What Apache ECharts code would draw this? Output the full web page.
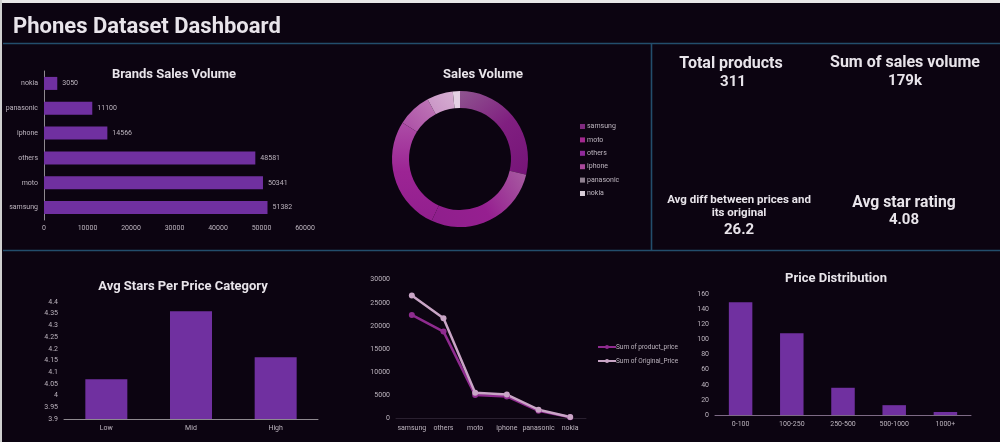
<!DOCTYPE html>
<html><head><meta charset="utf-8">
<style>html,body{margin:0;padding:0;background:#0c0411}#c{width:1000px;height:442px}</style>
<script src="https://cdn.jsdelivr.net/npm/echarts@6/dist/echarts.min.js"></script>
</head><body><div id="c"></div>
<script>
const brandCats = ['samsung','moto','others','iphone','panasonic','nokia'];
const brandSales = [51382,50341,48581,14566,11100,3050];
const priceCats = ['Low','Mid','High'];
const avgStars = [4.07,4.36,4.164];
const lineCats = ['samsung','others','moto','iphone','panasonic','nokia'];
const productPrice = [22400,18800,5100,4800,1700,300];
const originalPrice = [26600,21700,5600,5200,1950,350];
const distCats = ['0-100','100-250','250-500','500-1000','1000+'];
const distCounts = [149,108,36,13,4];

const F = 'Roboto, "Noto Sans", sans-serif';
const LBL = '#bdb5bf', WH = '#e8e4ea', BAR = '#7030a0', LINE = '#234e6c';
const grad = (x,y,x2,y2,stops)=>new echarts.graphic.LinearGradient(x,y,x2,y2,stops.map((c,i)=>({offset:i/(stops.length-1),color:c})));
const sliceStyle = [
  [grad(0,0,1,1,['#8f5590','#801f80','#761478']),'#7f2a7f'],
  [grad(1,0,0,1,['#a85ea2','#961f90','#8e1f8c']),'#a3288f'],
  [grad(0,1,0,0,['#921f8e','#9c2494','#ac4ca6']),'#8f2a9a'],
  [grad(0,1,1,0,['#aa4ca4','#c07ab8']),'#a8489a'],
  [grad(0,1,1,0,['#c890c4','#d6b0d2']),'#8f8090'],
  ['#e4d2e4','#d8ccd8']
];
const tt = (text,x,y,size)=>({text,left:x,top:y-size*0.62+1.6,padding:0,textAlign:'center',
  textStyle:{color:WH,fontFamily:F,fontWeight:700,fontSize:size,lineHeight:size*1.24}});
const axisLbl = (extra)=>Object.assign({color:LBL,fontFamily:F,fontSize:7,formatter:v=>String(v)},extra||{});
const hline=(x1,y1,x2,y2)=>({type:'line',silent:true,shape:{x1,y1,x2,y2},style:{stroke:LINE,lineWidth:1.6}});

const option = {
  backgroundColor:'#0c0411',
  animation:false,
  title:[
    Object.assign(tt('Phones Dataset Dashboard',13,26,22),{textAlign:'left'}),
    tt('Brands Sales Volume',174,73,13),
    tt('Sales Volume',483,73,13),
    tt('Avg Stars Per Price Category',183,285,13),
    tt('Price Distribution',836,277,13),
    tt('Total products',731,62,16),
    tt('311',733,81,15),
    tt('Sum of sales volume',905,61.5,16),
    tt('179k',905,80,15),
    tt('Avg diff between prices and',739,199,11.5),
    tt('its original',739,212,11.5),
    tt('26.2',739,229,15),
    tt('Avg star rating',904,201,15.7),
    tt('4.08',904,219,15)
  ],
  graphic:[
    {type:'rect',silent:true,shape:{x:0,y:0,width:1000,height:3},style:{fill:'#e8e8e8'}},
    {type:'rect',silent:true,shape:{x:0,y:0,width:2,height:442},style:{fill:'#d0d0d0'}},
    hline(3,43.5,1000,43.5),
    hline(651.5,43.5,651.5,250),
    hline(3,250.5,1000,250.5)
  ],
  legend:[
    {orient:'vertical',left:580,top:123,padding:0,itemWidth:5,itemHeight:5,itemGap:6.4,icon:'rect',
     textStyle:{color:LBL,fontFamily:F,fontSize:7,padding:[0,0,0,-3]},
     data:brandCats.map((n,i)=>({name:n,itemStyle:{color:sliceStyle[i][1]}}))},
    {orient:'vertical',left:597,top:343.5,padding:0,itemWidth:18,itemHeight:5,itemGap:7,
     textStyle:{color:LBL,fontFamily:F,fontSize:6.5,padding:[0,0,0,-5]},
     data:['Sum of product_price','Sum of Original_Price']}
  ],
  grid:[
    {left:44,top:71,width:261,height:149},
    {left:64,top:302,width:254,height:117},
    {left:396,top:279.7,width:190,height:139},
    {left:715,top:294,width:256,height:121}
  ],
  xAxis:[
    {gridIndex:0,type:'value',min:0,max:60000,interval:10000,splitLine:{show:false},axisLine:{show:false},axisTick:{show:false},axisLabel:axisLbl({margin:5})},
    {gridIndex:1,type:'category',data:priceCats,axisLine:{lineStyle:{color:'#8f8a90'}},axisTick:{show:false},axisLabel:axisLbl({margin:6})},
    {gridIndex:2,type:'category',data:lineCats,axisLine:{lineStyle:{color:'#2a2030'}},axisTick:{show:false},axisLabel:axisLbl({margin:6,interval:0})},
    {gridIndex:3,type:'category',data:distCats,axisLine:{lineStyle:{color:'#7d6a85'}},axisTick:{show:false},axisLabel:axisLbl({margin:6,interval:0})}
  ],
  yAxis:[
    {gridIndex:0,type:'category',data:brandCats,axisLine:{lineStyle:{color:'#8f8a90'}},axisTick:{show:false},axisLabel:axisLbl({margin:6})},
    {gridIndex:1,type:'value',min:3.9,max:4.4,interval:0.05,splitLine:{show:false},axisLine:{show:false},axisTick:{show:false},axisLabel:axisLbl({margin:6,formatter:v=>String(+v.toFixed(2))})},
    {gridIndex:2,type:'value',min:0,max:30000,interval:5000,splitLine:{show:false},axisLine:{show:false},axisTick:{show:false},axisLabel:axisLbl({margin:6})},
    {gridIndex:3,type:'value',min:0,max:160,interval:20,splitLine:{show:false},axisLine:{show:false},axisTick:{show:false},axisLabel:axisLbl({margin:6})}
  ],
  series:[
    {type:'bar',xAxisIndex:0,yAxisIndex:0,data:brandSales,barWidth:13,itemStyle:{color:BAR},
     label:{show:true,position:'right',distance:5,color:LBL,fontFamily:F,fontSize:7}},
    {type:'bar',xAxisIndex:1,yAxisIndex:1,data:avgStars,barWidth:42,itemStyle:{color:BAR}},
    {type:'line',name:'Sum of product_price',xAxisIndex:2,yAxisIndex:2,data:productPrice,symbol:'circle',symbolSize:6,
     lineStyle:{color:'#8f2b8f',width:2.5},itemStyle:{color:'#8f2b8f'}},
    {type:'line',name:'Sum of Original_Price',xAxisIndex:2,yAxisIndex:2,data:originalPrice,symbol:'circle',symbolSize:6,
     lineStyle:{color:'#c9a5c6',width:2.5},itemStyle:{color:'#c9a5c6'}},
    {type:'bar',xAxisIndex:3,yAxisIndex:3,data:distCounts,barWidth:23.5,itemStyle:{color:BAR}},
    {type:'pie',center:[460,159],radius:[51,68],startAngle:90,clockwise:true,label:{show:false},labelLine:{show:false},
     emphasis:{disabled:true},
     data:brandCats.map((n,i)=>({name:n,value:brandSales[i],itemStyle:{color:sliceStyle[i][0]}}))}
  ]
};
echarts.init(document.getElementById('c'),null,{renderer:'canvas'}).setOption(option);
</script></body></html>
